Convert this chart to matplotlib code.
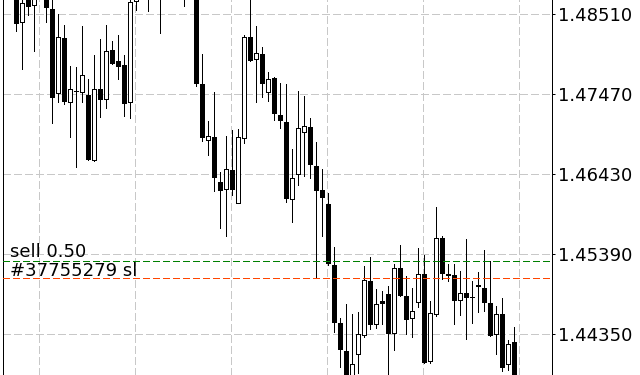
import matplotlib
matplotlib.use("Agg")
import matplotlib.pyplot as plt
import numpy as np
from matplotlib.transforms import blended_transform_factory

# OHLC values (EURUSD-like), one candle per bar
opens = [1.48800, 1.48406, 1.48750, 1.48627, 1.48750, 1.48800, 1.48575, 1.47483, 1.48198, 1.47366,
         1.47513, 1.47496, 1.47461, 1.46616, 1.47539, 1.47405, 1.48046, 1.47903, 1.47851, 1.47366,
         1.48683, 1.48720, 1.48900, 1.48800, 1.48920, 1.48850, 1.49000, 1.48950, 1.48850, 1.48800,
         1.48750, 1.47604, 1.46872, 1.46915, 1.46326, 1.46235, 1.46482, 1.46062, 1.46898, 1.48211,
         1.47925, 1.47990, 1.47496, 1.47678, 1.47197, 1.47106, 1.46113, 1.46438, 1.46985, 1.47045,
         1.46538, 1.46222, 1.46044, 1.45251, 1.44497, 1.44133, 1.43790, 1.44090, 1.44337, 1.45043,
         1.44480, 1.44779, 1.44870, 1.44363, 1.45208, 1.44848, 1.44558, 1.44775, 1.45130, 1.44003,
         1.44619, 1.45598, 1.45130, 1.45117, 1.44792, 1.44883, 1.44835, 1.44987, 1.44952, 1.44753,
         1.44350, 1.44614, 1.43964, 1.44250]
highs = [1.48900, 1.48720, 1.48800, 1.48800, 1.48900, 1.48850, 1.48750, 1.48514, 1.48371, 1.47838,
         1.47821, 1.48358, 1.47669, 1.47981, 1.48189, 1.48371, 1.48163, 1.48241, 1.47981, 1.48690,
         1.48760, 1.48950, 1.49050, 1.48980, 1.49100, 1.49120, 1.49200, 1.49150, 1.49000, 1.48950,
         1.48800, 1.47994, 1.47123, 1.47500, 1.46456, 1.46928, 1.47006, 1.47015, 1.48241, 1.48750,
         1.48358, 1.48085, 1.47760, 1.47695, 1.47617, 1.47604, 1.46759, 1.47513, 1.47448, 1.47162,
         1.46850, 1.46499, 1.46183, 1.45485, 1.44567, 1.44744, 1.44614, 1.44636, 1.45243, 1.45355,
         1.44939, 1.44913, 1.44978, 1.45260, 1.45507, 1.45108, 1.44952, 1.45472, 1.45377, 1.44779,
         1.46005, 1.45628, 1.45260, 1.45260, 1.45173, 1.45589, 1.45043, 1.45156, 1.45446, 1.45299,
         1.44718, 1.44818, 1.44276, 1.44445]
lows = [1.48297, 1.47795, 1.48497, 1.48037, 1.48710, 1.48414, 1.47101, 1.47374, 1.47340, 1.46911,
        1.46529, 1.47366, 1.46612, 1.46607, 1.47179, 1.47296, 1.47864, 1.47673, 1.47188, 1.47166,
        1.48566, 1.48710, 1.48557, 1.48720, 1.48263, 1.48730, 1.48800, 1.48750, 1.48622, 1.48710,
        1.47582, 1.46867, 1.46685, 1.46218, 1.45737, 1.45633, 1.46161, 1.46053, 1.46841, 1.47903,
        1.47374, 1.47439, 1.47387, 1.47132, 1.47036, 1.46074, 1.45814, 1.46296, 1.46412, 1.46386,
        1.45099, 1.45633, 1.45251, 1.44385, 1.43929, 1.43740, 1.43760, 1.43843, 1.44320, 1.44424,
        1.44437, 1.44480, 1.43825, 1.44146, 1.44844, 1.44350, 1.44320, 1.44709, 1.43982, 1.43982,
        1.44593, 1.45065, 1.45048, 1.44480, 1.44597, 1.44294, 1.44502, 1.44645, 1.44658, 1.44333,
        1.44090, 1.43878, 1.43886, 1.43740]
closes = [1.48393, 1.48661, 1.48622, 1.48750, 1.48800, 1.48609, 1.47431, 1.48211, 1.47387, 1.47535,
          1.47518, 1.47717, 1.46634, 1.47535, 1.47413, 1.48029, 1.47873, 1.47842, 1.47361, 1.48666,
          1.48720, 1.48900, 1.48800, 1.48920, 1.48850, 1.49000, 1.48950, 1.48850, 1.48800, 1.48750,
          1.47613, 1.46919, 1.46928, 1.46400, 1.46222, 1.46495, 1.46235, 1.46911, 1.48211, 1.47916,
          1.48003, 1.47621, 1.47674, 1.47231, 1.47140, 1.46126, 1.46378, 1.47028, 1.47054, 1.46568,
          1.46231, 1.46140, 1.45280, 1.44515, 1.44164, 1.43780, 1.43960, 1.44350, 1.45052, 1.44489,
          1.44740, 1.44761, 1.44363, 1.45208, 1.44866, 1.44554, 1.44649, 1.45130, 1.43995, 1.44623,
          1.45598, 1.45143, 1.45121, 1.44801, 1.44883, 1.44831, 1.44831, 1.44974, 1.44766, 1.44346,
          1.44614, 1.43921, 1.44224, 1.43780]

price_ticks = [1.48510, 1.47470, 1.46430, 1.45390, 1.44350]
tick_labels = ["1.48510", "1.47470", "1.46430", "1.45390", "1.44350"]

order_open_price = 1.45300
order_sl_price = 1.45080
order_label = "sell 0.50"
sl_label = "#37755279 sl"

W, H, DPI = 640, 375, 100
fig = plt.figure(figsize=(W / DPI, H / DPI), dpi=DPI, facecolor="white")
ax = fig.add_axes([3 / W, 0, 548.5 / W, 1])
ax.set_facecolor("white")

px = 72.0 / DPI  # one pixel in points
o = np.array(opens); h = np.array(highs); l = np.array(lows); c = np.array(closes)
x = np.arange(len(o))
bull = c > o

ax.vlines(x, l, h, color="black", linewidth=px, zorder=2, antialiased=False)
body_bottom = np.minimum(o, c)
body_height = np.maximum(np.abs(c - o), 1e-6)
ax.bar(x, body_height, bottom=body_bottom, width=0.67,
       color=np.where(bull, "white", "black"), edgecolor="black",
       linewidth=px, zorder=3, antialiased=False)

# trade lines
ax.axhline(order_open_price, color="#008000", linewidth=px, linestyle=(0, (6, 4)),
           zorder=4, antialiased=False)
ax.axhline(order_sl_price, color="#FF4500", linewidth=px, linestyle=(0, (6, 4)),
           zorder=4, antialiased=False)

tr = blended_transform_factory(ax.transAxes, ax.transData)
ax.annotate(order_label, xy=(7 / 548.5, order_open_price), xycoords=tr,
            xytext=(0, 4 * px), textcoords="offset points",
            fontsize=13, family="DejaVu Sans", va="baseline", ha="left", color="black", zorder=5)
ax.annotate(sl_label, xy=(7 / 548.5, order_sl_price), xycoords=tr,
            xytext=(0, 2.6 * px), textcoords="offset points",
            fontsize=13, family="DejaVu Sans", va="baseline", ha="left", color="black", zorder=5)

ax.set_xlim(-2.217, 89.2)
ax.set_ylim(1.43821, 1.48696)

# grid
ax.set_yticks(price_ticks)
ax.set_yticklabels(tick_labels)
ax.set_xticks([3.83 + 16 * m for m in range(6)])
ax.set_xticklabels([])
ax.grid(True, color="#c8c8c8", linewidth=px, linestyle=(0, (7, 3)), zorder=0)
for gl in ax.get_xgridlines() + ax.get_ygridlines():
    gl.set_antialiased(False)
ax.set_axisbelow(True)

ax.yaxis.tick_right()
ax.tick_params(axis="y", which="both", direction="out", length=3 * px, width=px,
               color="black", pad=4 * px, labelsize=13, labelcolor="black")
ax.tick_params(axis="x", length=0)
for lab in ax.get_yticklabels():
    lab.set_family("DejaVu Sans")

for s in ("top", "bottom"):
    ax.spines[s].set_visible(False)
for s in ("left", "right"):
    ax.spines[s].set_linewidth(px)
    ax.spines[s].set_color("black")
    ax.spines[s].set_antialiased(False)

fig.savefig("out.png", dpi=DPI, facecolor="white")
